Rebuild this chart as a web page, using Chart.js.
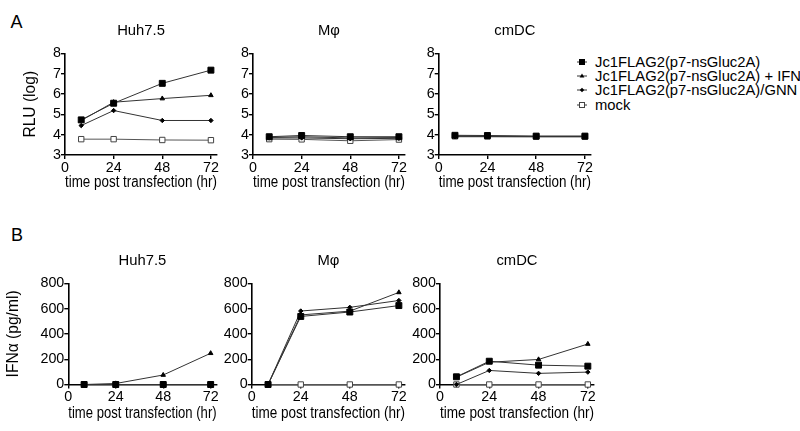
<!DOCTYPE html>
<html>
<head>
    <title>RLU and IFN-alpha after transfection</title>
    <script src="https://cdn.jsdelivr.net/npm/chart.js"></script>
    <style>
        body { margin: 0; background: #fff; font-family: "Liberation Sans", Arial, sans-serif; }
        #fig { position: relative; width: 800px; height: 431px; overflow: hidden; }
        #fig canvas { position: absolute; }
        .letter { position: absolute; font-size: 18px; line-height: 1; color: #000; }
        #legend { position: absolute; left: 576px; top: 54.5px; font-size: 14.8px; line-height: 14.4px; color: #000; }
        #legend div { white-space: nowrap; }
        #legend svg { vertical-align: middle; margin-right: 7px; margin-top: -2px; }
    </style>
</head>
<body>
<div id="fig">
    <div class="letter" style="left:10.5px; top:12.7px;">A</div>
    <div class="letter" style="left:11px; top:226px;">B</div>
    <div id="legend"></div>
</div>
<script>
    // time points (hr) and axis ticks
    const hours = [8, 24, 48, 72];
    const xTicks = [0, 24, 48, 72];
    const seriesLabels = [
        'Jc1FLAG2(p7-nsGluc2A)',
        'Jc1FLAG2(p7-nsGluc2A) + IFN',
        'Jc1FLAG2(p7-nsGluc2A)/GNN',
        'mock'
    ];

    // A: RLU (log), one row per series in seriesLabels order
    const rluHuh = [
        [4.73, 5.55, 6.53, 7.18],
        [4.70, 5.60, 5.78, 5.94],
        [4.45, 5.19, 4.70, 4.70],
        [3.78, 3.78, 3.74, 3.73]
    ];
    const rluMac = [
        [3.90, 3.96, 3.90, 3.90],
        [3.86, 3.90, 3.84, 3.86],
        [3.84, 3.84, 3.80, 3.82],
        [3.78, 3.77, 3.70, 3.76]
    ];
    const rluDC = [
        [3.97, 3.96, 3.93, 3.93],
        [3.94, 3.93, 3.92, 3.92],
        [3.90, 3.90, 3.90, 3.90],
        [3.92, 3.91, 3.90, 3.90]
    ];

    // B: IFN-alpha (pg/ml)
    const ifnHuh = [
        [0, 0, 0, 0],
        [0, 8, 75, 247],
        [0, 0, 0, 0],
        [0, 0, 0, 0]
    ];
    const ifnMac = [
        [0, 538, 573, 624],
        [0, 550, 580, 728],
        [0, 581, 610, 664],
        [0, 0, 0, 0]
    ];
    const ifnDC = [
        [61, 184, 153, 145],
        [58, 176, 198, 320],
        [0, 111, 88, 98],
        [0, 0, 0, 0]
    ];

    const FONT = 14.3;
    const TITLE_FONT = 15.6;
    Chart.defaults.font.family = '"Liberation Sans", Arial, sans-serif';
    Chart.defaults.font.size = FONT;
    Chart.defaults.color = '#000';

    const markerStyles = [
        { pointStyle: 'rect', radius: 4.2, fill: '#000', stroke: '#000', line: '#333' },
        { pointStyle: 'triangle', radius: 2.6, fill: '#000', stroke: '#000', line: '#333' },
        { pointStyle: 'rectRot', radius: 2.2, fill: '#000', stroke: '#000', line: '#333' },
        { pointStyle: 'rect', radius: 3.8, fill: '#fff', stroke: '#444', line: '#555' }
    ];

    function makeDatasets(rows) {
        return rows.map((vals, i) => ({
            label: seriesLabels[i],
            data: vals.map((v, k) => ({ x: hours[k], y: v })),
            borderColor: markerStyles[i].line,
            borderWidth: 1,
            pointStyle: markerStyles[i].pointStyle,
            pointRadius: markerStyles[i].radius,
            pointBackgroundColor: markerStyles[i].fill,
            pointBorderColor: markerStyles[i].stroke,
            pointBorderWidth: 1,
            clip: false,
            fill: false
        }));
    }

    const titleLine = 14.8 * 1.2;

    function buildPanel(p) {
        const cv = document.createElement('canvas');
        const w = Math.round(p.right + 14 - p.canvasLeft);
        const h = Math.round(p.bottom + p.xAxisH - p.canvasTop);
        cv.width = w; cv.height = h;
        cv.style.width = w + 'px'; cv.style.height = h + 'px';
        cv.style.left = p.canvasLeft + 'px';
        cv.style.top = p.canvasTop + 'px';
        document.getElementById('fig').appendChild(cv);

        const axisLine = { display: true, color: '#000', width: 1.6 };
        const tickGrid = { drawOnChartArea: false, drawTicks: true, tickLength: 4, color: '#000', lineWidth: 1.4 };

        new Chart(cv, {
            type: 'line',
            data: { datasets: makeDatasets(p.rows) },
            options: {
                responsive: false,
                animation: false,
                layout: { padding: { left: p.padLeft, top: p.padTop, right: w - (p.right - p.canvasLeft), bottom: 0 } },
                plugins: {
                    legend: { display: false },
                    tooltip: { enabled: false },
                    title: {
                        display: true,
                        text: p.title,
                        fullSize: false,
                        color: '#000',
                        font: { size: 14.8, weight: 'normal' },
                        padding: { top: 0, bottom: p.top - p.canvasTop - p.padTop - titleLine }
                    }
                },
                scales: {
                    x: {
                        type: 'linear',
                        min: 0,
                        max: 75,
                        afterBuildTicks: s => { s.ticks = xTicks.map(v => ({ value: v })); },
                        afterFit: s => { s.height = p.xAxisH; },
                        ticks: { padding: 0, maxRotation: 0, color: '#000' },
                        grid: tickGrid,
                        border: axisLine,
                        title: { display: true, text: 'time post transfection (hr)', color: '#000', font: { size: TITLE_FONT } }
                    },
                    y: {
                        min: p.yMin,
                        max: p.yMax,
                        afterFit: s => { s.width = p.left - p.canvasLeft - p.padLeft; },
                        ticks: { stepSize: p.yStep, padding: 0, color: '#000' },
                        grid: tickGrid,
                        border: axisLine,
                        title: { display: !!p.yTitle, text: p.yTitle || '', color: '#000', font: { size: TITLE_FONT } }
                    }
                }
            }
        });
    }

    const rowA = { canvasTop: 0, padTop: 22.5, top: 53.5, bottom: 155, xAxisH: 41, yMin: 3, yMax: 8, yStep: 1 };
    const rowB = { canvasTop: 215, padTop: 37, top: 283.3, bottom: 384.5, xAxisH: 42.5, yMin: 0, yMax: 800, yStep: 200 };

    const panels = [
        Object.assign({}, rowA, { title: 'Huh7.5', rows: rluHuh, canvasLeft: 0, padLeft: 17.5, left: 65, right: 217, yTitle: 'RLU (log)' }),
        Object.assign({}, rowA, { title: 'Mφ', rows: rluMac, canvasLeft: 208, padLeft: 0, left: 253, right: 405 }),
        Object.assign({}, rowA, { title: 'cmDC', rows: rluDC, canvasLeft: 394, padLeft: 0, left: 438.7, right: 591 }),
        Object.assign({}, rowB, { title: 'Huh7.5', rows: ifnHuh, canvasLeft: 0, padLeft: 0, left: 68.3, right: 216.6, yTitle: 'IFNα (pg/ml)' }),
        Object.assign({}, rowB, { title: 'Mφ', rows: ifnMac, canvasLeft: 200, padLeft: 0, left: 251.7, right: 405 }),
        Object.assign({}, rowB, { title: 'cmDC', rows: ifnDC, canvasLeft: 388, padLeft: 0, left: 440, right: 594 })
    ];
    panels.forEach(buildPanel);

    // legend: short line with the series marker, then the label
    const markerSvg = [
        '<rect x="3" y="2" width="6" height="6" fill="#000"/>',
        '<polygon points="6,2.4 8.4,6.6 3.6,6.6" fill="#000"/>',
        '<polygon points="6,2.8 8.2,5 6,7.2 3.8,5" fill="#000"/>',
        '<rect x="3.5" y="2.5" width="5" height="5" fill="#fff" stroke="#444" stroke-width="1"/>'
    ];
    const legendEl = document.getElementById('legend');
    seriesLabels.forEach((name, i) => {
        const row = document.createElement('div');
        row.innerHTML = '<svg width="12" height="10"><line x1="1" y1="5" x2="11" y2="5" stroke="#333" stroke-width="1"/>' +
            markerSvg[i] + '</svg>' + name;
        legendEl.appendChild(row);
    });
</script>
</body>
</html>
